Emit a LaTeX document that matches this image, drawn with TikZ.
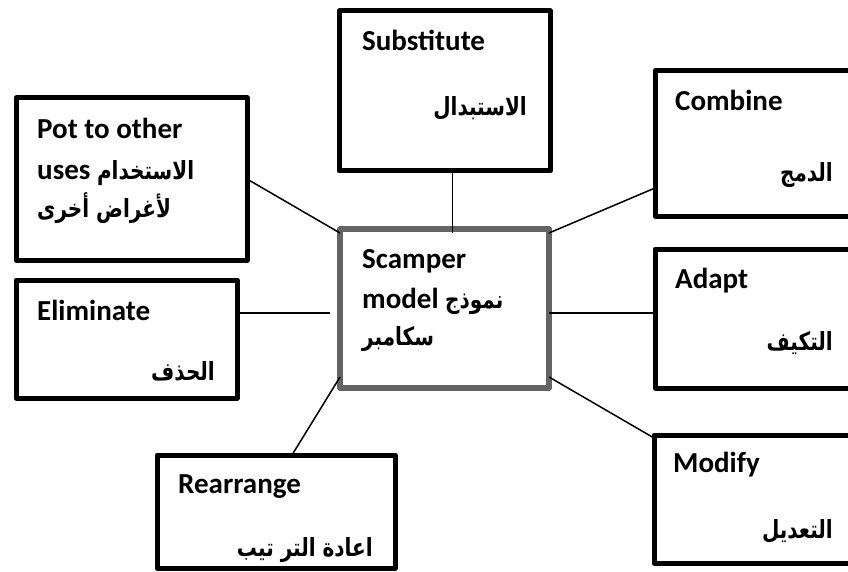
\documentclass[tikz,border=0pt]{standalone}
\usepackage{fontspec}
\setmainfont{Carlito}
\newfontfamily\arabicfont[Script=Arabic,FakeStretch=0.8]{DejaVu Sans}
\TeXXeTstate=1
\definecolor{hubgray}{RGB}{100,100,100}
\newcommand{\arsize}{\fontsize{25}{30}\selectfont}
\begin{document}
\begin{tikzpicture}[x=1pt,y=-1pt,
  box/.style={draw=black,line width=5pt,line join=round,outer sep=0pt,inner sep=0pt,anchor=north west},
  hub/.style={draw=hubgray,line width=5.5pt,line join=round,outer sep=0pt,inner sep=0pt,anchor=north west},
  link/.style={draw=black,line width=1.5pt},
  en/.style={anchor=base west,inner sep=0pt,font=\fontsize{29}{35}\selectfont\bfseries},
  ar/.style={anchor=base east,inner sep=0pt,font=\arsize\arabicfont\bfseries}]
\useasboundingbox (0,0) rectangle (848,572);
\clip (0,0) rectangle (848,572);
\fill[white] (0,0) rectangle (848,572);
% boxes
\node[box,minimum width=231pt,minimum height=162pt] (pot) at (16,98) {};
\node[box,minimum width=211pt,minimum height=160pt] (sub) at (339,11) {};
\node[box,minimum width=205pt,minimum height=145pt] (comb) at (655,71) {};
\node[box,minimum width=205pt,minimum height=139pt] (adapt) at (655,249) {};
\node[box,minimum width=206pt,minimum height=128pt] (mod) at (654,435) {};
\node[box,minimum width=221pt,minimum height=118pt] (elim) at (16,280) {};
\node[box,minimum width=238pt,minimum height=113pt] (rear) at (157,455) {};
\node[hub,minimum width=209pt,minimum height=159pt] (hub) at (340,229) {};
\coordinate (elimend) at (330,313);
% connectors
\draw[link] (pot.east) -- ([yshift=-4pt]hub.north west);
\draw[link] ([xshift=8pt]sub.south) -- ([xshift=8pt,yshift=-4pt]hub.north);
\draw[link] ([yshift=-4pt]hub.north east) -- ([yshift=28pt]comb.south west);
\draw[link] ([yshift=-4.5pt]hub.east) -- ([yshift=5.5pt]adapt.west);
\draw[link] ([yshift=11pt]hub.south east) -- ([yshift=-3pt]mod.north west);
\draw[link] ([yshift=26pt]elim.east) -- (elimend);
\draw[link] ([xshift=16pt]rear.north) -- ([yshift=11pt]hub.south west);
% texts
\node[en] (t1) at (37,139) {Pot to other};
\node[en] (t2) at (37,180) {uses \arabicfont\arsize\beginR الاستخدام\endR};
\node[ar,anchor=base west] (t3) at (37,218) {\beginR لأغراض أخرى\endR};
\node[en] (s1) at (362,51) {Substitute};
\node[ar] (s2) at (527,116) {\beginR الاستبدال\endR};
\node[en] (c1) at (675,111) {Combine};
\node[ar] (c2) at (833,182) {\beginR الدمج\endR};
\node[en] (a1) at (675,288) {Adapt};
\node[ar] (a2) at (833,350) {\beginR التكيف\endR};
\node[en] (m1) at (673,472) {Modify};
\node[ar] (m2) at (833,538) {\beginR التعديل\endR};
\node[en] (e1) at (37,320) {Eliminate};
\node[ar] (e2) at (215,380) {\beginR الحذف\endR};
\node[en] (r1) at (178,493) {Rearrange};
\node[ar] (r2) at (373,556) {\beginR اعادة التر تيب\endR};
\node[en] (h1) at (362,268) {Scamper};
\node[en] (h2) at (362,308) {model \arabicfont\arsize\beginR نموذج\endR};
\node[ar,anchor=base west] (h3) at (362,345) {\beginR سكامبر\endR};
\end{tikzpicture}
\end{document}
